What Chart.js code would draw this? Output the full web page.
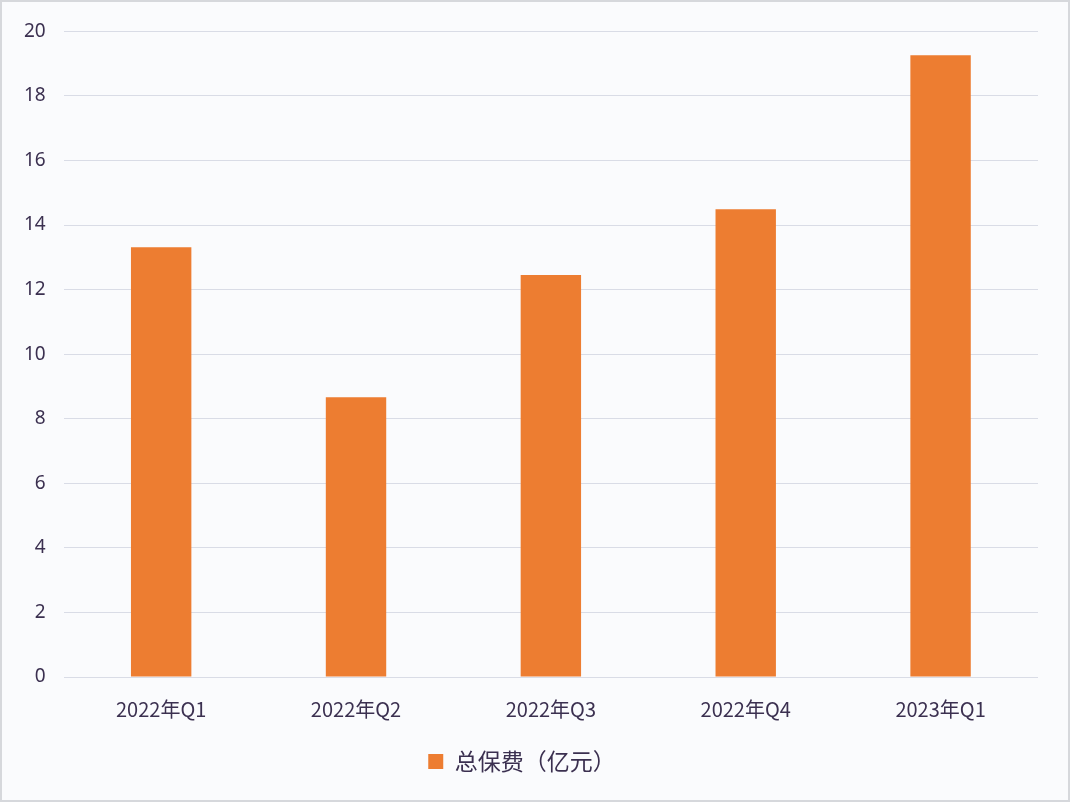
<!DOCTYPE html>
<html>
<head>
<meta charset="utf-8">
<script src="https://cdn.jsdelivr.net/npm/chart.js@4"></script>
<style>
  html, body { margin: 0; padding: 0; background: #fafbfd; }
  .cadre { position: relative; width: 1066px; height: 798px; border: 2px solid #d6d8dc; }
</style>
</head>
<body>
<div class="cadre"><canvas id="graphique"></canvas></div>
<script>
const labels = ["2022年Q1", "2022年Q2", "2022年Q3", "2022年Q4", "2023年Q1"];
const primes = [13.31, 8.67, 12.45, 14.49, 19.26];
const nomSerie = "总保费（亿元）";

const data = {
  labels: labels,
  datasets: [
    {
      label: nomSerie,
      data: primes,
      backgroundColor: "#ed7d31",
      categoryPercentage: 1,
      barPercentage: 0.31,
    },
  ],
};

const config = {
  type: "bar",
  data: data,
  options: {
    responsive: true,
    maintainAspectRatio: false,
    animation: false,
    layout: { padding: { top: 17, right: 30, left: 4, bottom: 17 } },
    plugins: {
      legend: {
        position: "bottom",
        labels: {
          boxWidth: 15,
          boxHeight: 15,
          padding: 17,
          color: "#3b3050",
          font: { size: 23, family: "'Noto Sans CJK SC', 'Noto Sans', sans-serif" },
        },
      },
      tooltip: { enabled: false },
    },
    scales: {
      x: {
        grid: { display: false },
        border: { display: false },
        ticks: {
          color: "#3b3050",
          padding: 12,
          font: { size: 20, family: "'Noto Sans CJK SC', 'Noto Sans', sans-serif" },
        },
      },
      y: {
        min: 0,
        max: 20,
        ticks: {
          stepSize: 2,
          color: "#3b3050",
          padding: 18,
          font: { size: 19, family: "'Noto Sans', sans-serif" },
        },
        grid: { color: "#d9dce6", drawTicks: false },
        border: { display: false },
      },
    },
  },
};

new Chart(document.querySelector("#graphique"), config);
</script>
</body>
</html>
